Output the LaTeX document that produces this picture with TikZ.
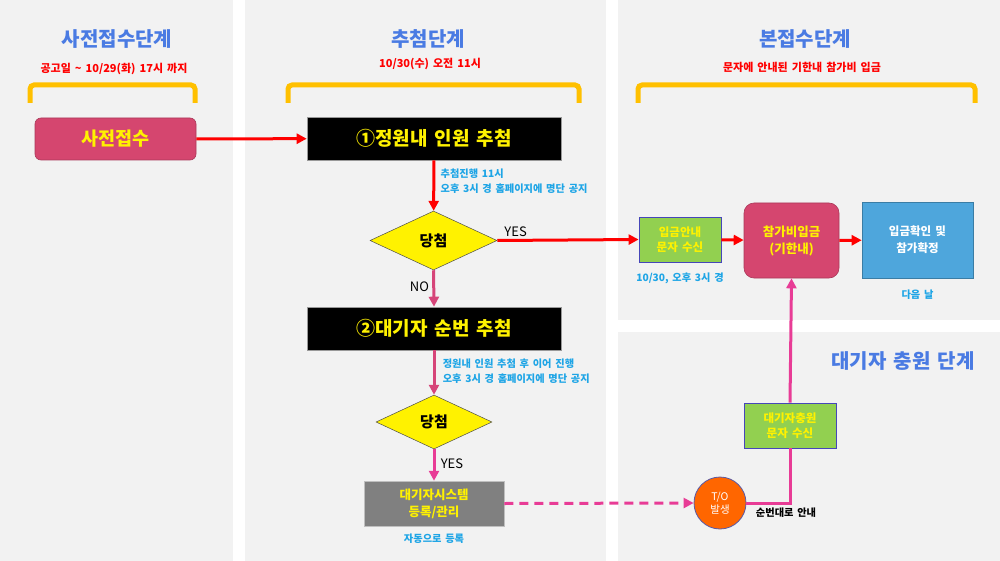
\documentclass[tikz,border=0pt]{standalone}
\usepackage{fontspec}
\setmainfont{Noto Sans CJK KR}[WordSpace=1.6]
\usepackage{tikz}
\usetikzlibrary{arrows.meta,positioning,shapes.geometric}
\definecolor{stageblue}{HTML}{4A7BE3}
\definecolor{deadline}{HTML}{FF0000}
\definecolor{panelgray}{HTML}{F2F2F2}
\definecolor{bracegold}{HTML}{FFC000}
\definecolor{rosefill}{HTML}{D5466F}
\definecolor{noteblue}{HTML}{1EA5E6}
\definecolor{flowred}{HTML}{FF0000}
\definecolor{flowpink}{HTML}{D64579}
\definecolor{flowmagenta}{HTML}{E83C96}
\definecolor{greenfill}{HTML}{92D050}
\definecolor{bluefill}{HTML}{4EA6DC}
\definecolor{orangefill}{HTML}{FF6600}
\tikzset{
  stagename/.style={font=\fontsize{20}{24}\selectfont\bfseries, text=stageblue},
  stagedate/.style={font=\fontsize{11}{13}\selectfont\bfseries, text=deadline},
  bracket/.style={draw=bracegold, line width=5pt, rounded corners=4pt},
  rosebox/.style={
    rectangle,
    rounded corners=6pt,
    draw=rosefill!80!black,
    line width=0.6pt,
    fill=rosefill,
    text=yellow,
    align=center,
    font=\fontsize{12.5}{17}\selectfont\bfseries
  },
  drawbox/.style={
    rectangle,
    draw=black!40,
    line width=0.6pt,
    fill=black,
    text=yellow,
    font=\fontsize{19}{22}\selectfont\bfseries,
    minimum width=254pt,
    minimum height=43pt
  },
  decision/.style={
    diamond,
    aspect=2,
    inner sep=0pt,
    draw=black!70,
    line width=0.5pt,
    fill=yellow,
    font=\fontsize{15}{17}\selectfont\bfseries
  },
  greenbox/.style={
    rectangle,
    draw=blue!45!gray,
    line width=0.8pt,
    fill=greenfill,
    text=yellow,
    align=center,
    font=\fontsize{11.5}{15.5}\selectfont\bfseries,
    minimum height=45pt
  },
  graybox/.style={
    rectangle,
    draw=black!25,
    line width=0.5pt,
    fill=black!50,
    text=yellow,
    align=center,
    font=\fontsize{12.5}{17}\selectfont\bfseries,
    minimum width=140pt,
    minimum height=45pt
  },
  bluebox/.style={
    rectangle,
    draw=bluefill!75!black,
    line width=0.6pt,
    fill=bluefill,
    text=white,
    align=center,
    font=\fontsize{11.5}{17}\selectfont\bfseries,
    minimum width=111pt,
    minimum height=76pt
  },
  todot/.style={
    circle,
    draw=blue!30!gray,
    line width=0.8pt,
    fill=orangefill,
    text=white,
    align=center,
    font=\fontsize{10.5}{13.5}\selectfont,
    minimum size=52pt,
    inner sep=0pt
  },
  redflow/.style={line width=3pt, draw=flowred, -{Triangle[length=10pt,width=10pt]}},
  pinkflow/.style={line width=3pt, draw=flowpink, -{Triangle[length=10pt,width=10pt]}},
  magentaflow/.style={line width=3pt, draw=flowmagenta, -{Triangle[length=10pt,width=10pt]}},
  magentaline/.style={line width=3pt, draw=flowmagenta},
  dashflow/.style={line width=3pt, draw=flowmagenta, dash pattern=on 9pt off 6pt,
    -{Triangle[length=10pt,width=10pt]}},
  notelabel/.style={font=\fontsize{10.2}{15}\selectfont\bfseries, text=noteblue, align=left},
  answer/.style={font=\fontsize{13}{15}\selectfont, text=black}
}
\newcommand{\stagebrace}[2]{%
  \draw[bracket] (#1,103) -- (#1,85) -- (#2,85) -- (#2,103);
}

\begin{document}
\begin{tikzpicture}[x=1pt,y=-1pt]
\path[use as bounding box] (0,0) rectangle (1000,561);
\fill[white] (0,0) rectangle (1000,561);
\fill[panelgray] (0,0) rectangle (233,561);
\fill[panelgray] (245,0) rectangle (606,561);
\fill[panelgray] (618,0) rectangle (1000,320);
\fill[panelgray] (618,332) rectangle (1000,561);

% stage headings
\node[stagename] (prehead) at (117,39) {사전접수단계};
\node[stagedate] (predate) at (114,69) {공고일 \textasciitilde{} 10/29(화) 17시 까지};
\node[stagename] (drawhead) at (428,39) {추첨단계};
\node[stagedate] (drawdate) at (430,64) {10/30(수) 오전 11시};
\node[stagename] (mainhead) at (805,39) {본접수단계};
\node[stagedate] (maindate) at (802,67) {문자에 안내된 기한내 참가비 입금};
\node[stagename] (waithead) at (903,361) {대기자 충원 단계};

\stagebrace{30}{195}
\stagebrace{288}{579}
\stagebrace{638}{975}

% first column
\node[rosebox, minimum width=161pt, minimum height=42pt,
  font=\fontsize{18.5}{22}\selectfont\bfseries] (pre) at (115.5,139) {사전접수};

% draw column
\node[drawbox] (draw1) at (434,138.5) {①정원내 인원 추첨};
\node[decision, minimum width=127pt, minimum height=59pt] (win1) at (433.5,240.5) {당첨};
\node[drawbox] (draw2) at (434,328.5) {②대기자 순번 추첨};
\node[decision, minimum width=116pt, minimum height=54pt] (win2) at (434,422) {당첨};
\node[graybox] (sys) at (434,503.5) {대기자시스템\\등록/관리};
\node[notelabel, below=4pt of sys] (autonote) {자동으로 등록};

% main column
\node[greenbox, minimum width=82pt] (notice) at (680,239.5) {입금안내\\문자 수신};
\node[notelabel, below=7pt of notice] (noticetime) {10/30, 오후 3시 경};
\node[rosebox, rounded corners=10pt, minimum width=95pt, minimum height=75pt] (pay) at (791.5,240.5) {참가비입금\\(기한내)};
\node[bluebox] (done) at (917.5,240) {입금확인 및\\참가확정};
\node[notelabel, below=8pt of done] (donetime) {다음 날};

% waiting list
\node[todot] (to) at (720,503) {T/O\\발생};
\node[greenbox, minimum width=92pt] (wait) at (790,425.5) {대기자충원\\문자 수신};

\draw[redflow] (pre) -- (draw1);
\draw[redflow] (draw1) -- node[notelabel, right, pos=0.42, xshift=2pt] {추첨진행 11시\\오후 3시 경 홈페이지에 명단 공지} (win1);
\draw[redflow] (win1.east) -- node[answer, above, pos=0.13, yshift=-1pt] {YES} (notice.west);
\draw[pinkflow] (win1.south) -- node[answer, left, pos=0.45] {NO} (draw2.north);
\draw[pinkflow] (draw2) -- node[notelabel, right, pos=0.46, xshift=4pt] {정원내 인원 추첨 후 이어 진행\\오후 3시 경 홈페이지에 명단 공지} (win2);
\draw[magentaflow] (win2.south) -- node[answer, right, pos=0.45, xshift=2pt] {YES} (sys.north);
\draw[redflow] (notice) -- (pay);
\draw[redflow] (pay) -- (done);
\draw[dashflow] (sys.east) -- (to.west);
\draw[magentaline] (to.east) -| node[below, pos=0.5, xshift=-4pt,
  font=\fontsize{10.2}{12}\selectfont\bfseries] {순번대로 안내} (wait.south);
\draw[magentaflow] (wait.north) -- (pay.south);

\end{tikzpicture}
\end{document}
